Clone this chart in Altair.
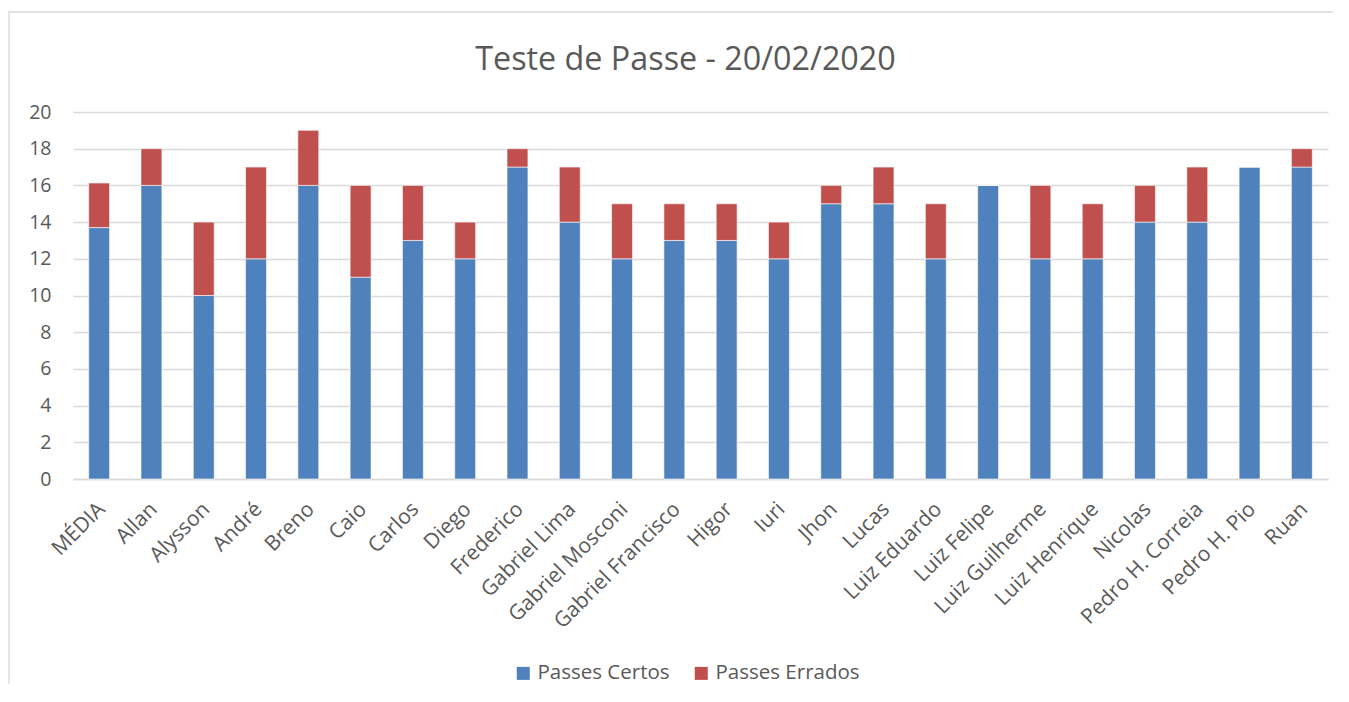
import altair as alt
import pandas as pd

players = ["MÉDIA", "Allan", "Alysson", "André", "Breno", "Caio", "Carlos", "Diego",
           "Frederico", "Gabriel Lima", "Gabriel Mosconi", "Gabriel Francisco", "Higor",
           "Iuri", "Jhon", "Lucas", "Luiz Eduardo", "Luiz Felipe", "Luiz Guilherme",
           "Luiz Henrique", "Nicolas", "Pedro H. Correia", "Pedro H. Pio", "Ruan"]
certos = [13.7, 16, 10, 12, 16, 11, 13, 12, 17, 14, 12, 13, 13, 12, 15, 15, 12, 16, 12, 12, 14, 14, 17, 17]
errados = [2.43, 2, 4, 5, 3, 5, 3, 2, 1, 3, 3, 2, 2, 2, 1, 2, 3, 0, 4, 3, 2, 3, 0, 1]
series = ["Passes Certos", "Passes Errados"]
y_ticks = [0, 2, 4, 6, 8, 10, 12, 14, 16, 18, 20]

rows = []
for i, p in enumerate(players):
    rows.append({"Jogador": p, "Série": series[0], "Valor": certos[i], "ordem": 0})
    rows.append({"Jogador": p, "Série": series[1], "Valor": errados[i], "ordem": 1})
df = pd.DataFrame(rows)

FONT = "Open Sans"
TXT = "#595959"

bars = alt.Chart(df).mark_bar(stroke="white", strokeWidth=0.6).encode(
    x=alt.X("Jogador:N", sort=players, title=None,
            scale=alt.Scale(paddingInner=0.6, paddingOuter=0.3),
            axis=alt.Axis(labelAngle=-45, labelAlign="right", labelBaseline="top",
                          labelFontSize=21, labelColor=TXT, labelFont=FONT,
                          ticks=False, domain=True, domainColor="#d9d9d9",
                          domainWidth=1.3, labelPadding=19, labelOffset=-5,
                          labelOverlap=False)),
    y=alt.Y("Valor:Q", stack="zero", title=None,
            scale=alt.Scale(domain=[0, 20], nice=False),
            axis=alt.Axis(values=y_ticks, labelFontSize=19.5, labelColor=TXT, labelFont=FONT,
                          ticks=False, domain=False, gridColor="#d9d9d9", gridWidth=1.3,
                          labelPadding=22)),
    color=alt.Color("Série:N", sort=series,
                    scale=alt.Scale(domain=series, range=["#4F81BD", "#C0504D"]),
                    legend=alt.Legend(title=None, orient="none", direction="horizontal",
                                      legendX=440, legendY=551,
                                      symbolType="square", symbolSize=169,
                                      symbolStrokeWidth=0,
                                      labelFontSize=20.5, labelColor=TXT, labelFont=FONT,
                                      columnPadding=21, labelOffset=4)),
    order=alt.Order("ordem:Q", sort="ascending"),
)

frame = alt.Chart(pd.DataFrame({"a": [0]})).mark_rect(
    fill=None, stroke="#d9d9d9", strokeWidth=1.3, clip=False
).encode(
    x=alt.value(-64), x2=alt.value(1330), y=alt.value(-100), y2=alt.value(600)
)

chart = alt.layer(frame, bars).properties(
    width=1255, height=367,
    padding={"left": 65, "top": 104, "right": 5, "bottom": 205},
    autosize=alt.AutoSizeParams(type="none"),
    title=alt.TitleParams("Teste de Passe - 20/02/2020", fontSize=32.3, font=FONT,
                          fontWeight="normal", color=TXT, offset=-98, dx=-15,
                          baseline="bottom"),
).configure_view(stroke=None)

chart.save("out.html", embed_options={"renderer": "svg", "actions": False})
